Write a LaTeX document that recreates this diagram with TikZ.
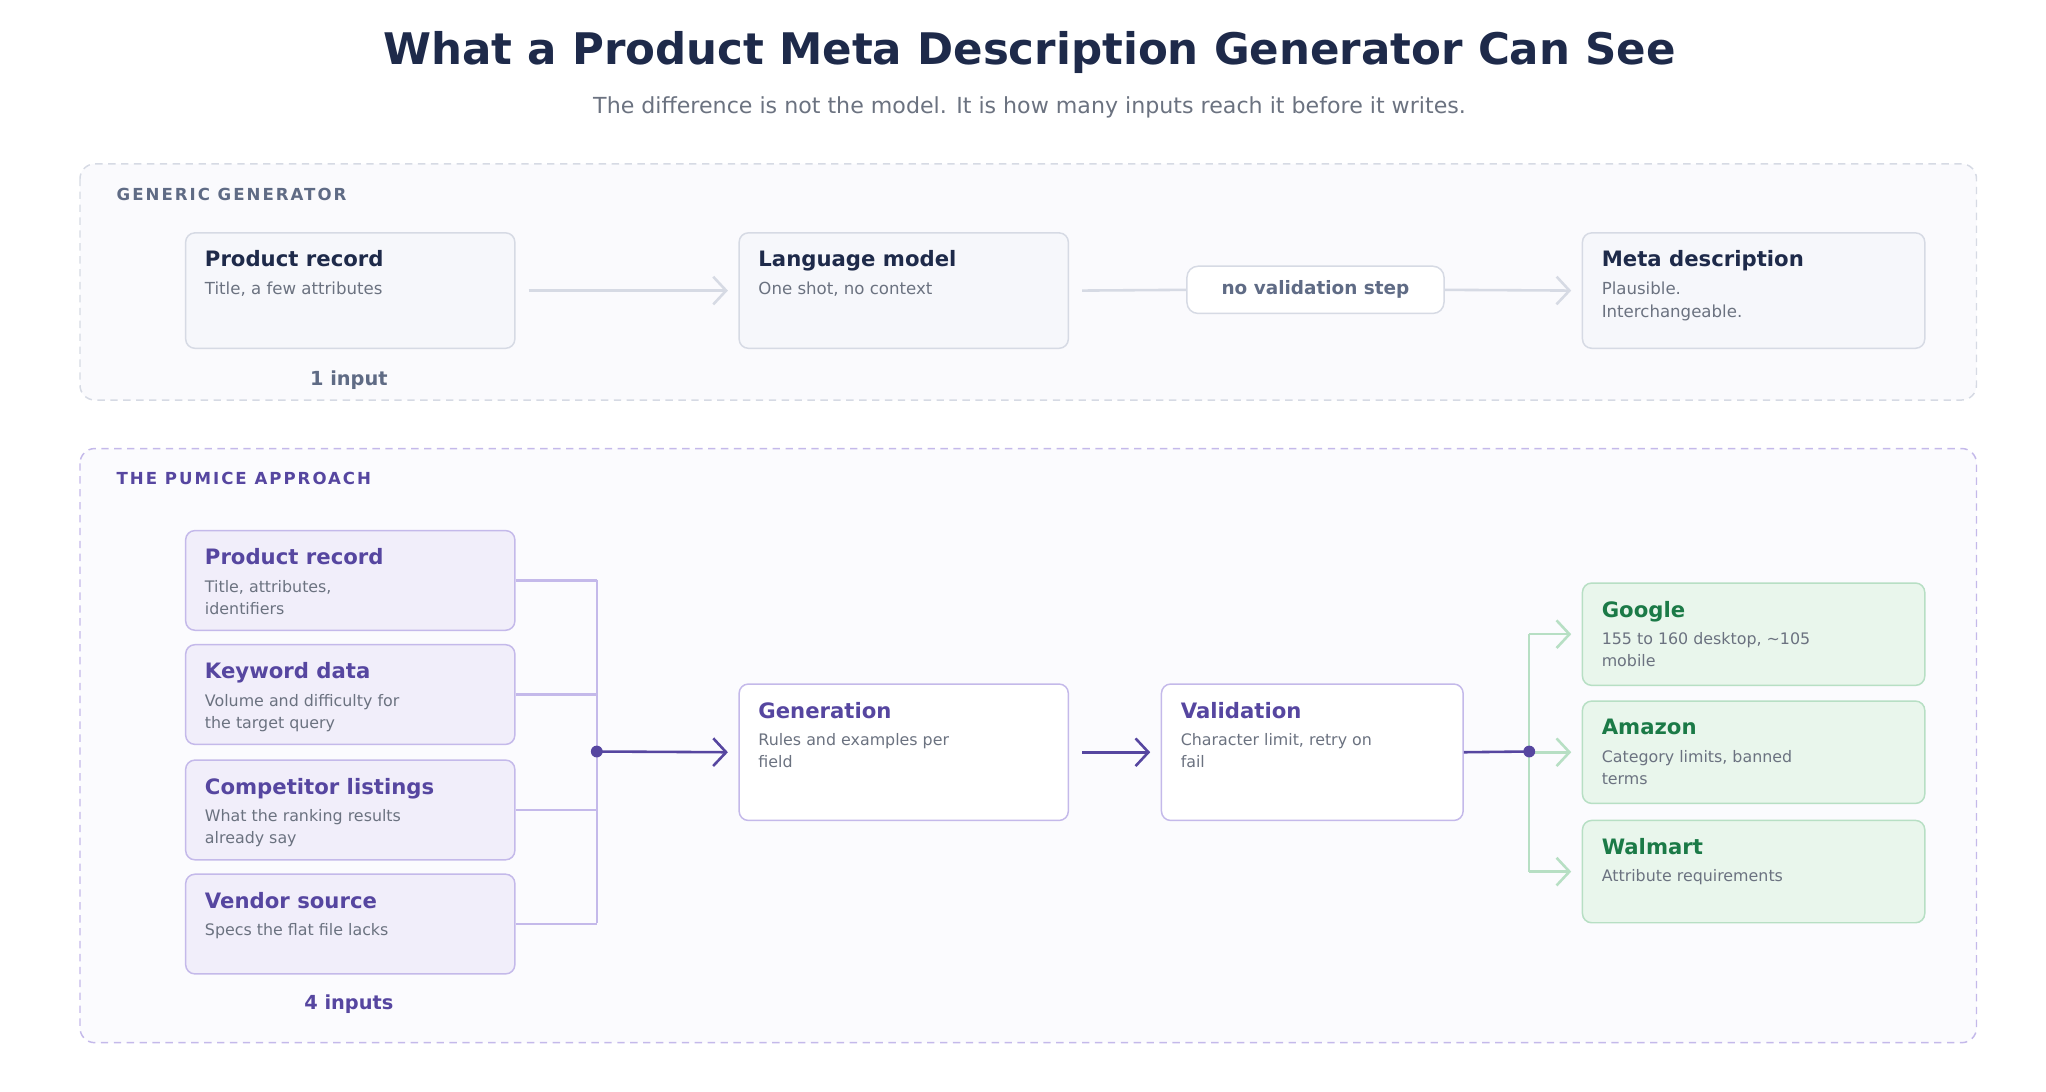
\documentclass[tikz,border=0pt]{standalone}
\usepackage{fontspec}
\setmainfont{DejaVu Sans}
\newfontfamily\spacedfont{DejaVu Sans}[LetterSpace=12]
\usetikzlibrary{arrows.meta,positioning,calc}
\definecolor{navy}{HTML}{1E2A4A}
\definecolor{slate}{HTML}{6B7280}
\definecolor{slatedark}{HTML}{5F6B85}
\definecolor{pum}{HTML}{5646A0}
\definecolor{pumline}{HTML}{C4B9EA}
\definecolor{pumfill}{HTML}{F1EEFA}
\definecolor{grn}{HTML}{1B7A47}
\definecolor{grnline}{HTML}{B7DFC4}
\definecolor{grnfill}{HTML}{E9F6EC}
\definecolor{gline}{HTML}{D6DAE4}
\definecolor{gfill}{HTML}{F6F7FB}
\tikzset{
  box/.style={draw, rounded corners=5pt, line width=0.8pt},
  genbox/.style={box, draw=gline, fill=gfill},
  pumbox/.style={box, draw=pumline, fill=pumfill},
  grnbox/.style={box, draw=grnline, fill=grnfill},
  ttl/.style={anchor=north west, inner sep=0pt, font=\fontsize{11.5}{13}\selectfont\bfseries},
  sub/.style={anchor=north west, inner sep=0pt, align=left, text=slate, font=\fontsize{9}{12}\selectfont},
  arr/.style={-{Straight Barb[length=7pt,width=15pt,line width=1.4pt]}, line width=1.4pt},
  panel/.style={rounded corners=8pt, dashed, dash pattern=on 4pt off 3pt, line width=0.8pt}
}
\begin{document}
\begin{tikzpicture}[x=0.025cm, y=-0.025cm]
\useasboundingbox (0,0) rectangle (1560,832);
% title
\node (title) [text=navy, font=\fontsize{23.6}{27}\selectfont\bfseries] at (785,40) {What a Product Meta Description Generator Can See};
\node (subtitle) [text=slate, font=\fontsize{12}{14}\selectfont] at (785,82) {The difference is not the model. It is how many inputs reach it before it writes.};

% Generic generator
\draw[panel, draw=gline, fill=gfill!60] (61,125) rectangle (1507,305);
\node (genlabel) [anchor=west, text=slatedark, font=\fontsize{9}{11}\selectfont\bfseries\spacedfont] at (84,148) {GENERIC GENERATOR};

\node (g1) [genbox, minimum width=251*0.025cm, minimum height=88*0.025cm, anchor=north west] at (141,177) {};
\node [ttl, text=navy] at ($(g1.north west)+(15,14)$) {Product record};
\node [sub] at ($(g1.north west)+(15,38)$) {Title, a few attributes};
\node (g2) [genbox, minimum width=251*0.025cm, minimum height=88*0.025cm, anchor=north west] at (563,177) {};
\node [ttl, text=navy] at ($(g2.north west)+(15,14)$) {Language model};
\node [sub] at ($(g2.north west)+(15,38)$) {One shot, no context};
\node (novalid) [box, draw=gline, fill=white, rounded corners=6pt, minimum width=196*0.025cm, minimum height=36*0.025cm, text=slatedark, font=\fontsize{10}{12}\selectfont\bfseries] at (1003,221) {no validation step};
\node (g3) [genbox, minimum width=261*0.025cm, minimum height=88*0.025cm, anchor=north west] at (1206,177) {};
\node [ttl, text=navy] at ($(g3.north west)+(15,14)$) {Meta description};
\node [sub] at ($(g3.north west)+(15,38)$) {Plausible.\\Interchangeable.};
\node (oneinput) [text=slatedark, font=\fontsize{10.5}{12}\selectfont\bfseries] at (266,290) {1 input};

\draw[arr, draw=gline] ([xshift=10*0.025cm]g1.east) -- ([xshift=-8*0.025cm]g2.west);
\draw[line width=1.4pt, draw=gline] ([xshift=10*0.025cm]g2.east) -- (novalid.west);
\draw[arr, draw=gline] (novalid.east) -- ([xshift=-8*0.025cm]g3.west);

% Pumice approach
\draw[panel, draw=pumline, fill=pumfill!25] (61,342) rectangle (1507,795);
\node (pumlabel) [anchor=west, text=pum, font=\fontsize{9}{11}\selectfont\bfseries\spacedfont] at (84,365) {THE PUMICE APPROACH};

\coordinate (bus top) at (455,442);
\coordinate (bus bot) at (455,704);
\coordinate (hub) at (455,573);
\foreach \name/\y/\t/\s in {p1/404/Product record/{Title, attributes,\\identifiers},
    p2/491/Keyword data/{Volume and difficulty for\\the target query},
    p3/579/Competitor listings/{What the ranking results\\already say},
    p4/666/Vendor source/{Specs the flat file lacks}} {
  \node (\name) [pumbox, minimum width=251*0.025cm, minimum height=76*0.025cm, anchor=north west] at (141,\y) {};
  \node [ttl, text=pum] at ($(\name.north west)+(15,14)$) {\t};
  \node [sub, font=\fontsize{8.6}{12}\selectfont] at ($(\name.north west)+(15,38)$) {\s};
  \draw[pumline, line width=1.2pt] (\name.east) -- (\name.east -| hub);
}
\draw[pumline, line width=1.2pt] (bus top) -- (bus bot);
\fill[pum] (hub) circle (4.5*0.025cm);

\node (gen) [box, draw=pumline, fill=white, minimum width=251*0.025cm, minimum height=104*0.025cm, anchor=north west] at (563,521) {};
\node [ttl, text=pum] at ($(gen.north west)+(15,14)$) {Generation};
\node [sub, font=\fontsize{8.6}{12}\selectfont] at ($(gen.north west)+(15,38)$) {Rules and examples per\\field};
\node (val) [box, draw=pumline, fill=white, minimum width=230*0.025cm, minimum height=104*0.025cm, anchor=north west] at (885,521) {};
\node [ttl, text=pum] at ($(val.north west)+(15,14)$) {Validation};
\node [sub, font=\fontsize{8.6}{12}\selectfont] at ($(val.north west)+(15,38)$) {Character limit, retry on\\fail};
\draw[arr, draw=pum] (hub) -- ([xshift=-8*0.025cm]gen.west);
\draw[arr, draw=pum] ([xshift=10*0.025cm]gen.east) -- ([xshift=-8*0.025cm]val.west);

\coordinate (split) at (1166,573);
\foreach \name/\y/\t/\s in {o1/444/Google/{155 to 160 desktop, \textasciitilde105\\mobile},
    o2/534/Amazon/{Category limits, banned\\terms},
    o3/625/Walmart/{Attribute requirements}} {
  \node (\name) [grnbox, minimum width=261*0.025cm, minimum height=78*0.025cm, anchor=north west] at (1206,\y) {};
  \node [ttl, text=grn] at ($(\name.north west)+(15,14)$) {\t};
  \node [sub, font=\fontsize{8.6}{12}\selectfont] at ($(\name.north west)+(15,38)$) {\s};
}
\draw[grnline, line width=1.2pt] (split |- o1.west) -- (split |- o3.west);
\foreach \name in {o1,o2,o3}
  \draw[arr, draw=grnline] (split |- \name.west) -- ([xshift=-8*0.025cm]\name.west);
\draw[pum, line width=1.4pt] (val.east) -- (split);
\fill[pum] (split) circle (4.5*0.025cm);
\node (fourinputs) [text=pum, font=\fontsize{10.5}{12}\selectfont\bfseries] at (266,766) {4 inputs};
\end{tikzpicture}
\end{document}
